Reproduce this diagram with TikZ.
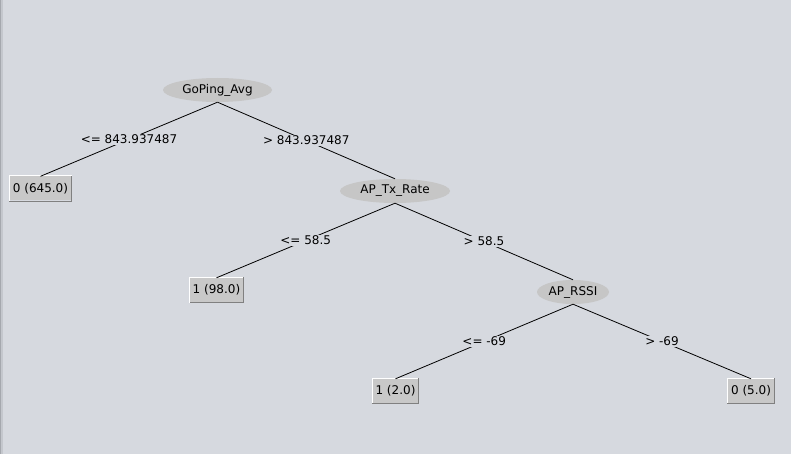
\documentclass[tikz,border=0pt]{standalone}
\usepackage{fontspec}
\setmainfont{DejaVu Sans}
\usetikzlibrary{shapes.geometric}
\definecolor{bg}{RGB}{214,217,223}
\definecolor{nodefill}{RGB}{198,198,198}
\definecolor{leaffill}{RGB}{200,200,200}
\definecolor{leafdark}{RGB}{128,128,128}
\definecolor{stripa}{RGB}{165,168,174}
\definecolor{stripb}{RGB}{196,199,205}
\tikzset{
  inner/.style={ellipse, fill=nodefill, draw=none, minimum height=24pt, inner sep=0pt, font=\fontsize{12}{14}\selectfont},
  leaf/.style={rectangle, fill=leaffill, draw=none, minimum height=24pt, inner sep=0pt, font=\fontsize{12}{14}\selectfont},
  lighted/.style={draw=white, line width=1pt},
  shaded/.style={draw=leafdark, line width=1pt},
  edge/.style={draw=black, line width=0.8pt},
  elabel/.style={fill=bg, inner sep=1pt, font=\fontsize{12}{14}\selectfont}
}
\begin{document}
\begin{tikzpicture}[x=1pt,y=-1pt]
\useasboundingbox (0,0) rectangle (791,454);
\fill[bg] (0,0) rectangle (791,454);
\fill[stripa] (0,0) rectangle (1.2,454);
\fill[stripb] (1.2,0) rectangle (3,454);

\node[inner, minimum width=109pt] (root) at (217.5,90) {GoPing\_Avg};
\node[inner, minimum width=110pt] (tx) at (395,191) {AP\_Tx\_Rate};
\node[inner, minimum width=72pt] (rssi) at (573,292) {AP\_RSSI};

\node[leaf, minimum width=63pt] (l1) at (40.5,188.5) {0 (645.0)};
\node[leaf, minimum width=54pt] (l2) at (216.5,290) {1 (98.0)};
\node[leaf, minimum width=47pt] (l3) at (395.5,391) {1 (2.0)};
\node[leaf, minimum width=48pt] (l4) at (751,391) {0 (5.0)};

\foreach \n in {l1,l2,l3,l4}{
  \draw[lighted] ([xshift=0.5pt,yshift=-0.5pt]\n.south west) -- ([xshift=0.5pt,yshift=0.5pt]\n.north west) -- ([xshift=-0.5pt,yshift=0.5pt]\n.north east);
  \draw[shaded] ([xshift=-0.5pt,yshift=0.5pt]\n.north east) -- ([xshift=-0.5pt,yshift=-0.5pt]\n.south east) -- ([xshift=0.5pt,yshift=-0.5pt]\n.south west);
}

\draw[edge] (root.south) -- (l1.north) node[midway, elabel] (e1) {<= 843.937487};
\draw[edge] (root.south) -- (tx.north) node[midway, elabel] (e2) {> 843.937487};
\draw[edge] (tx.south) -- (l2.north) node[midway, elabel] (e3) {<= 58.5};
\draw[edge] (tx.south) -- (rssi.north) node[midway, elabel] (e4) {> 58.5};
\draw[edge] (rssi.south) -- (l3.north) node[midway, elabel] (e5) {<= -69};
\draw[edge] (rssi.south) -- (l4.north) node[midway, elabel] (e6) {> -69};
\end{tikzpicture}
\end{document}
